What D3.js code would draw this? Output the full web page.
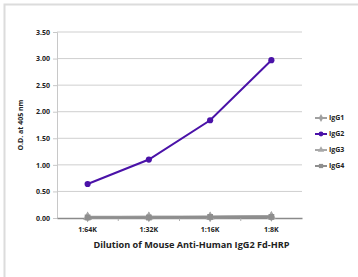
<!DOCTYPE html>
<html>
<head>
<meta charset="utf-8">
<script src="https://cdn.jsdelivr.net/npm/d3@7"></script>
<style>
  body { margin: 0; background: #fff; }
  text { font-family: "Open Sans", "Liberation Sans", sans-serif; font-weight: bold; fill: #222; }
</style>
</head>
<body>
<script>
const dilutions = ["1:64K", "1:32K", "1:16K", "1:8K"];
const yTicks = [0, 0.5, 1, 1.5, 2, 2.5, 3, 3.5];
const igg1 = [0.02, 0.02, 0.02, 0.03];
const igg2 = [0.64, 1.10, 1.84, 2.97];
const igg3 = [0.01, 0.02, 0.02, 0.03];
const igg4 = [0.01, 0.01, 0.02, 0.02];

const series = [
  { name: "IgG1", values: igg1, color: "#a0a0a0", shape: d3.symbolDiamond },
  { name: "IgG2", values: igg2, color: "#4a12a8", shape: d3.symbolCircle },
  { name: "IgG3", values: igg3, color: "#a8a8a8", shape: d3.symbolTriangle },
  { name: "IgG4", values: igg4, color: "#8e8e8e", shape: d3.symbolSquare }
];

const width = 358, height = 277;
const margin = { left: 57, right: 56, top: 32, bottom: 59 };

const svg = d3.select("body").append("svg")
  .attr("width", width)
  .attr("height", height);

// frame round the picture
svg.append("rect")
  .attr("x", 4.5).attr("y", 4.5)
  .attr("width", width + 10).attr("height", height + 10)
  .attr("fill", "none")
  .attr("stroke", "#dcdcdc")
  .attr("stroke-width", 2);

const x = d3.scaleBand()
  .domain(dilutions)
  .range([margin.left, width - margin.right]);

const y = d3.scaleLinear()
  .domain([0, 3.5])
  .range([height - margin.bottom, margin.top]);

// gridlines
svg.append("g")
  .selectAll("line")
  .data(yTicks.filter(d => d > 0))
  .enter().append("line")
  .attr("x1", margin.left).attr("x2", width - margin.right)
  .attr("y1", d => y(d)).attr("y2", d => y(d))
  .attr("stroke", "#cfcfcf")
  .attr("stroke-width", 1);

// y axis
const yAxis = svg.append("g")
  .attr("transform", `translate(${margin.left},0)`)
  .call(d3.axisLeft(y).tickValues(yTicks).tickFormat(d3.format(".2f")).tickSize(4).tickPadding(3));
yAxis.selectAll("path, line").attr("stroke", "#c8c8c8");
yAxis.selectAll("text").style("font-size", "7px").attr("fill", "#222");

// x axis
const xAxis = svg.append("g")
  .attr("transform", `translate(0,${y(0)})`)
  .call(d3.axisBottom(x).tickSize(0).tickPadding(9));
xAxis.select("path").attr("stroke", "#8a8a8a").attr("stroke-width", 1.5);
xAxis.selectAll("text").style("font-size", "7px").attr("fill", "#222");

// small ticks between the categories
svg.append("g")
  .selectAll("line")
  .data(dilutions.slice(1))
  .enter().append("line")
  .attr("x1", d => x(d)).attr("x2", d => x(d))
  .attr("y1", y(0)).attr("y2", y(0) + 3)
  .attr("stroke", "#b0b0b0");

const line = d3.line()
  .x((d, i) => x(dilutions[i]) + x.bandwidth() / 2)
  .y(d => y(d));

const drawOrder = [series[0], series[2], series[3], series[1]];
drawOrder.forEach(s => {
  const g = svg.append("g");
  g.append("path")
    .datum(s.values)
    .attr("d", line)
    .attr("fill", "none")
    .attr("stroke", s.color)
    .attr("stroke-width", s.name === "IgG2" ? 2 : 2.6);
  g.selectAll("path.m")
    .data(s.values)
    .enter().append("path")
    .attr("class", "m")
    .attr("d", d3.symbol().type(s.shape).size(s.name === "IgG2" ? 30 : 34))
    .attr("transform", (d, i) => `translate(${x(dilutions[i]) + x.bandwidth() / 2},${y(d)})`)
    .attr("fill", s.color);
});

// axis titles
svg.append("text")
  .attr("transform", `translate(23,${(y(0) + y(3.5)) / 2}) rotate(-90)`)
  .attr("text-anchor", "middle")
  .style("font-size", "7px")
  .text("O.D. at 405 nm");

svg.append("text")
  .attr("x", (margin.left + width - margin.right) / 2 + 12)
  .attr("y", 248)
  .attr("text-anchor", "middle")
  .style("font-size", "8px")
  .attr("textLength", 196)
  .attr("lengthAdjust", "spacingAndGlyphs")
  .text("Dilution of Mouse Anti-Human IgG2 Fd-HRP");

// legend
const legend = svg.append("g")
  .selectAll("g")
  .data(series)
  .enter().append("g")
  .attr("transform", (d, i) => `translate(315,${118 + i * 16})`);
legend.append("line")
  .attr("x1", 0).attr("x2", 12)
  .attr("stroke", d => d.color)
  .attr("stroke-width", 2);
legend.append("path")
  .attr("d", d => d3.symbol().type(d.shape).size(18)())
  .attr("transform", "translate(6,0)")
  .attr("fill", d => d.color);
legend.append("text")
  .attr("x", 14)
  .attr("dy", "0.35em")
  .style("font-size", "7px")
  .text(d => d.name);
</script>
</body>
</html>
